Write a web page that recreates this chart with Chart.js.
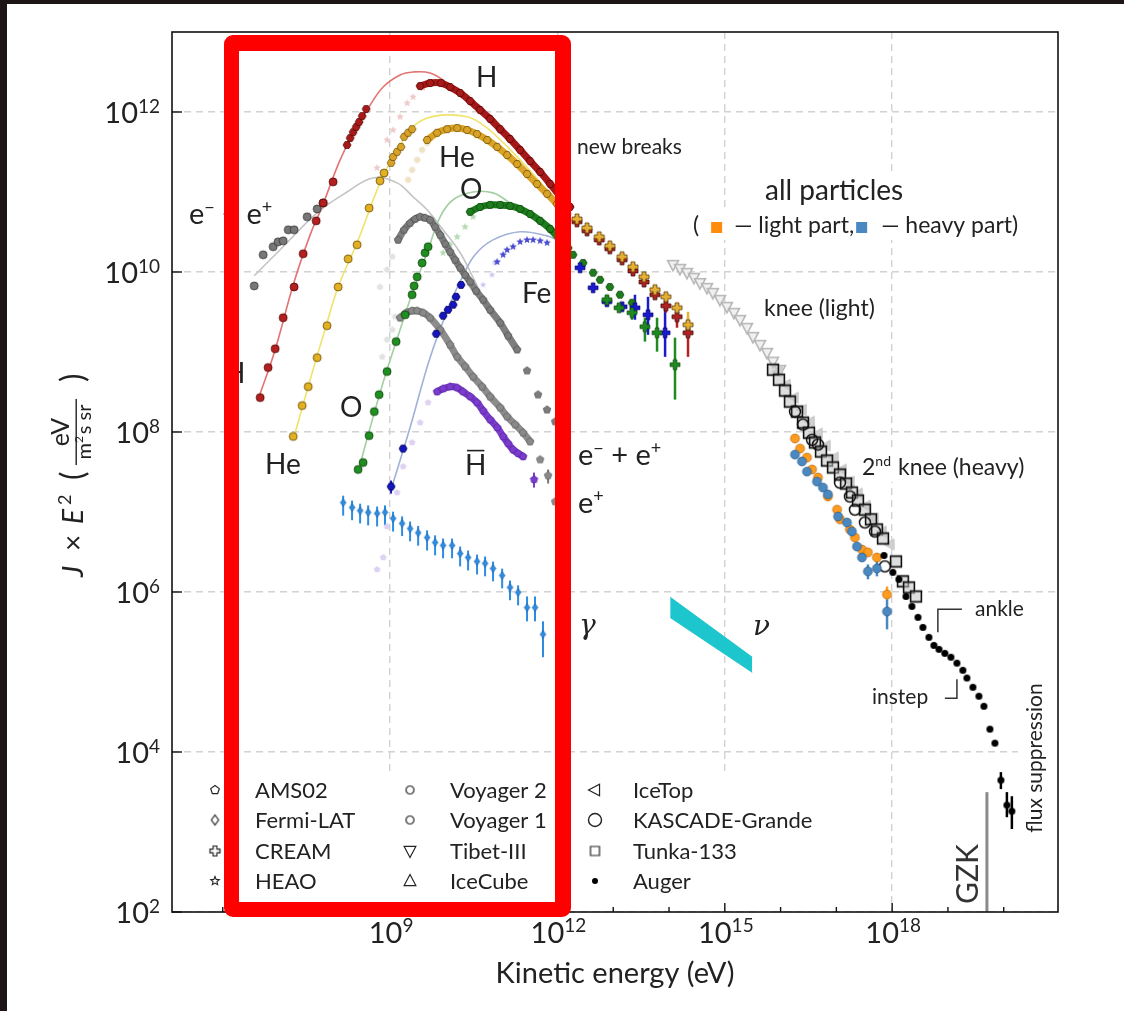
<!DOCTYPE html>
<html><head><meta charset="utf-8">
<script src="https://cdn.jsdelivr.net/npm/chart.js@4.4.1/dist/chart.umd.min.js"></script>
<style>html,body{margin:0;padding:0;background:#1d1515;}canvas{display:block;}</style>
</head><body>
<canvas id="c" width="1124" height="1011"></canvas>
<script>
// ---------------- axis ticks ----------------
const xTickValues = [1e9, 1e12, 1e15, 1e18];
const xTickExps = ['9', '12', '15', '18'];
const xMinorTicks = [1e6, 1e7, 1e8, 1e10, 1e11, 1e13, 1e14, 1e16, 1e17, 1e19, 1e20];
const yTickValues = [1e2, 1e4, 1e6, 1e8, 1e10, 1e12];
const yTickExps = ['2', '4', '6', '8', '10', '12'];

// ---------------- H ----------------
const hVoyE = [4.68e6, 6.5e6, 8.7e6, 1.21e7, 1.9e7, 2.76e7, 4.72e7, 6.3e7, 9.5e7];
const hVoyJ = [2.69e8, 6.4e8, 1.1e9, 2.68e9, 6.5e9, 1.69e10, 4.36e10, 7.3e10, 1.34e11];
const hLowE = [1.69e8, 1.92e8, 2.17e8, 2.46e8, 2.78e8, 3.15e8, 3.72e8];
const hLowJ = [3.87e11, 4.73e11, 5.6e11, 6.5e11, 7.5e11, 8.9e11, 1.09e12];
const hCurveE = [4.3e6, 8.7e6, 1.83e7, 3.68e7, 6.0e7, 1.27e8, 2.36e8, 3.87e8, 7.5e8, 1.51e9, 2.58e9, 5.2e9, 1.05e10, 2.4e10, 6.2e10, 2.14e11, 9.1e11];
const hCurveJ = [2.54e8, 1.07e9, 6.9e9, 2.91e10, 6.5e10, 2.52e11, 5.96e11, 1.06e12, 2.05e12, 2.9e12, 3.16e12, 3.07e12, 2.3e12, 1.41e12, 7.9e11, 3.56e11, 1.06e11];
const hAmsE = [3.45e9, 5.2e9, 8.2e9, 1.19e10, 1.8e10, 2.72e10, 4.1e10, 6.2e10, 9.4e10, 1.41e11, 2.14e11, 3.23e11, 4.9e11, 7.4e11, 1.11e12, 1.68e12];
const hAmsJ = [2.11e12, 2.3e12, 2.3e12, 2.05e12, 1.73e12, 1.37e12, 1.06e12, 8.2e11, 6.1e11, 4.6e11, 3.36e11, 2.44e11, 1.78e11, 1.26e11, 8.9e10, 6.5e10];
const hFaintE = [5.85e8, 8.8e8, 1.13e9, 1.51e9, 2.02e9, 2.58e9, 3.9e9];
const hFaintJ = [2.0e11, 4.47e11, 5.96e11, 8.7e11, 1.29e12, 1.54e12, 2.0e12];
const creamE = [2.24e12, 3.39e12, 5.6e12, 8.7e12, 1.44e13, 2.26e13, 3.56e13, 5.6e13, 8.8e13, 1.39e14, 2.19e14];
const hCreamJ = [4.24e10, 3.27e10, 2.52e10, 1.95e10, 1.42e10, 1.03e10, 7.5e9, 5.2e9, 3.78e9, 2.76e9, 1.74e9];
const hCreamLo = [null, null, null, null, null, null, null, null, 3.1e9, 2.01e9, 8.7e8];
const hCreamHi = [null, null, null, null, null, null, null, null, 4.5e9, 3.37e9, 2.07e9];

// ---------------- He ----------------
const heVoyE = [1.83e7, 2.65e7, 3.4e7, 4.92e7, 7.4e7, 1.17e8, 1.77e8, 2.56e8, 4.2e8, 6.6e8, 7.8e8];
const heVoyJ = [8.8e7, 2.14e8, 3.69e8, 8.5e8, 2.13e9, 6.5e9, 1.46e10, 2.19e10, 6.3e10, 1.38e11, 1.73e11];
const heLowE = [1.04e9, 1.13e9, 1.33e9, 1.57e9, 1.78e9, 2.1e9, 2.48e9];
const heLowJ = [2.31e11, 2.74e11, 3.17e11, 3.66e11, 4.9e11, 5.5e11, 6.1e11];
const heCurveE = [1.83e7, 3.68e7, 6.8e7, 1.17e8, 2.56e8, 6.6e8, 1.33e9, 2.58e9, 4.6e9, 1.05e10, 2.4e10, 4.1e10, 7.6e10, 2.14e11, 9.1e11];
const heCurveJ = [8.0e7, 4.5e8, 1.9e9, 6.5e9, 2.32e10, 1.3e11, 3.36e11, 6.5e11, 8.4e11, 9.2e11, 8.7e11, 7.3e11, 5.2e11, 2.52e11, 8.0e10];
const heAmsE = [4.6e9, 6.95e9, 1.05e10, 1.59e10, 2.4e10, 3.62e10, 5.5e10, 8.3e10, 1.25e11, 1.89e11, 2.85e11, 4.3e11, 6.5e11, 9.8e11, 1.49e12];
const heAmsJ = [4.47e11, 5.5e11, 6.1e11, 6.3e11, 5.96e11, 5.3e11, 4.47e11, 3.66e11, 2.9e11, 2.24e11, 1.68e11, 1.26e11, 9.5e10, 7.1e10, 5.3e10];
const heFaintE = [2.1e9, 2.48e9, 3.05e9, 3.74e9, 4.6e9];
const heFaintJ = [1.42e11, 1.89e11, 2.52e11, 3.36e11, 4.1e11];
const heCreamJ = [4.6e10, 3.56e10, 2.75e10, 2.12e10, 1.55e10, 1.16e10, 8.7e9, 6.0e9, 4.9e9, 3.57e9, 2.19e9];
const heCreamLo = [null, null, null, null, null, null, null, null, null, 3.1e9, 1.64e9];
const heCreamHi = [null, null, null, null, null, null, null, null, null, 4.13e9, 3.18e9];

// ---------------- e- + e+ ----------------
const eeLowE = [3.66e6, 5.3e6, 8.0e6, 9.8e6, 1.21e7, 1.49e7, 1.9e7, 3.26e7, 4.92e7, 6.3e7];
const eeLowJ = [6.7e9, 1.64e10, 2.07e10, 2.38e10, 2.45e10, 3.37e10, 3.37e10, 4.9e10, 6.15e10, 7.3e10];
const eeCurveE = [3.66e6, 1.21e7, 4.92e7, 1.69e8, 4.95e8, 1.33e9, 2.58e9, 4.6e9, 8.9e9, 1.8e10, 3.07e10, 4.1e10];
const eeCurveJ = [8.97e9, 2.07e10, 5.5e10, 1.0e11, 1.5e11, 1.3e11, 8.7e10, 6.0e10, 3.37e10, 1.74e10, 8.5e9, 5.66e9];
const eeAmsE = [1.39e9, 1.78e9, 2.28e9, 2.81e9, 3.45e9, 4.24e9, 5.2e9, 6.4e9, 7.9e9, 9.7e9, 1.19e10, 1.46e10, 1.8e10, 2.21e10, 2.72e10, 3.48e10, 4.64e10, 6.2e10, 9.4e10, 1.3e11, 1.89e11, 2.85e11, 4.49e11, 6.5e11, 9.1e11];
const eeAmsJ = [2.52e10, 3.37e10, 4.1e10, 4.6e10, 4.9e10, 4.75e10, 4.49e10, 3.66e10, 2.91e10, 2.25e10, 1.79e10, 1.42e10, 1.13e10, 9.2e9, 7.55e9, 5.8e9, 4.5e9, 3.37e9, 2.32e9, 1.6e9, 1.07e9, 5.85e8, 2.93e8, 1.9e8, 1.35e8];
const eeFaintE = [6.6e8, 8.8e8, 1.09e9, 1.23e9, 1.09e9, 7.2e8, 8.8e8];
const eeFaintJ = [6.5e9, 1.07e10, 1.55e10, 2.76e9, 1.9e9, 8.7e8, 1.43e9];

// ---------------- e+ ----------------
const posE = [1.51e9, 1.94e9, 2.48e9, 3.05e9, 3.9e9, 5.2e9, 7.9e9, 1.19e10, 1.59e10, 2.21e10, 3.07e10, 4.45e10, 6.2e10, 9.4e10, 1.25e11, 1.74e11, 2.42e11, 3.23e11, 4.9e11, 6.8e11, 9.1e11];
const posJ = [2.68e9, 3.1e9, 3.28e9, 3.28e9, 3.1e9, 2.68e9, 1.9e9, 1.23e9, 8.7e8, 6.6e8, 4.92e8, 3.69e8, 2.77e8, 2.02e8, 1.56e8, 1.24e8, 9.8e7, 7.6e7, 4.53e7, 2.86e7, 1.35e7];
const posLo = [null, null, null, null, null, null, null, null, null, null, null, null, null, null, null, null, null, null, null, 2.27e7, null];
const posHi = [null, null, null, null, null, null, null, null, null, null, null, null, null, null, null, null, null, null, null, 3.4e7, null];

// ---------------- O ----------------
const oVoyE = [2.67e8, 3.28e8, 4.2e8, 5.2e8, 6.35e8, 8.8e8, 1.28e9, 1.86e9, 2.48e9, 2.69e9, 3.05e9, 3.74e9, 4.24e9, 4.8e9];
const oVoyJ = [3.4e7, 4.15e7, 9.0e7, 1.8e8, 2.93e8, 5.7e8, 1.35e9, 2.92e9, 5.2e9, 6.7e9, 8.7e9, 1.3e10, 1.74e10, 2.07e10];
const oCurveE = [2.67e8, 6.6e8, 1.51e9, 2.69e9, 4.8e9, 7.9e9, 1.35e10, 3.07e10, 7.0e10, 1.41e11, 3.23e11, 9.1e11];
const oCurveJ = [3.2e7, 3.1e8, 1.9e9, 6.35e9, 1.89e10, 4.9e10, 8.0e10, 1.0e11, 9.75e10, 7.3e10, 5.2e10, 2.91e10];
const oAmsE = [2.72e10, 4.1e10, 6.2e10, 9.4e10, 1.41e11, 2.14e11, 3.23e11, 4.9e11, 7.4e11, 1.11e12, 1.55e12, 1.9e12, 2.88e12, 4.35e12, 5.8e12, 8.7e12, 1.32e13, 2.17e13];
const oAmsJ = [5.65e10, 6.5e10, 6.9e10, 6.9e10, 6.7e10, 6.15e10, 5.3e10, 4.36e10, 3.46e10, 2.52e10, 2.0e10, 1.64e10, 1.3e10, 9.8e9, 8.0e9, 6.5e9, 5.2e9, 4.13e9];
const oStarE = [8.9e9, 1.19e10, 1.59e10, 2.21e10, 3.07e10];
const oStarJ = [1.74e10, 2.19e10, 2.75e10, 3.66e10, 4.9e10];
const oCreamE = [7.7e12, 1.27e13, 2.17e13, 3.7e13, 6.1e13, 1.28e14];
const oCreamJ = [4.5e9, 3.57e9, 3.1e9, 2.07e9, 1.74e9, 6.95e8];
const oCreamLo = [null, null, 2.53e9, 1.35e9, 1.01e9, 2.54e8];
const oCreamHi = [null, null, 3.57e9, 2.68e9, 2.68e9, 1.51e9];

// ---------------- Fe ----------------
const feVoyE = [1.04e9, 1.71e9, 6.7e9, 8.9e9, 1.09e10, 1.35e10, 1.52e10, 1.87e10];
const feVoyJ = [2.08e7, 6.2e7, 1.69e9, 2.84e9, 3.37e9, 3.9e9, 4.9e9, 6.9e9];
const feVoyLo = [1.7e7, null, null, null, null, null, null, null];
const feVoyHi = [2.47e7, null, null, null, null, null, null, null];
const feCurveE = [1.04e9, 2.28e9, 5.2e9, 1.19e10, 1.95e10, 3.33e10, 7.0e10, 2.14e11, 6.5e11, 9.8e11];
const feCurveJ = [1.91e7, 1.14e8, 8.5e8, 4.0e9, 8.5e9, 1.64e10, 2.52e10, 3.18e10, 2.83e10, 2.52e10];
const feHeaoE = [8.3e10, 1.06e11, 1.25e11, 1.6e11, 2.14e11, 2.85e11, 3.66e11, 4.9e11, 6.5e11];
const feHeaoJ = [1.34e10, 1.64e10, 1.89e10, 2.07e10, 2.38e10, 2.52e10, 2.52e10, 2.45e10, 2.32e10];
const feFaintE = [4.64e10, 6.7e10, 7.6e10];
const feFaintJ = [6.9e9, 9.2e9, 1.3e10];
const feCreamE = [2.54e12, 4.35e12, 7.7e12, 1.44e13, 2.45e13, 4.2e13, 8.5e13];
const feCreamJ = [1.13e10, 6.35e9, 4.25e9, 3.68e9, 3.57e9, 2.92e9, 1.74e9];
const feCreamLo = [null, null, null, null, 2.53e9, 1.64e9, 8.7e8];
const feCreamHi = [null, null, null, null, 5.2e9, 4.9e9, 3.68e9];

// ---------------- anti-protons ----------------
const pbarFaintE = [5.85e8, 7.5e8, 8.8e8, 1.33e9, 1.71e9, 2.48e9, 3.45e9, 4.8e9];
const pbarFaintJ = [1.91e6, 2.7e6, 6.6e6, 1.75e7, 3.7e7, 7.4e7, 1.31e8, 2.33e8];
const pbarE = [6.95e9, 8.9e9, 1.19e10, 1.59e10, 2.03e10, 2.72e10, 3.62e10, 4.64e10, 6.2e10, 8.3e10, 1.06e11, 1.3e11, 1.6e11, 1.97e11, 2.42e11, 3.8e11];
const pbarJ = [3.19e8, 3.48e8, 3.69e8, 3.58e8, 3.19e8, 2.77e8, 2.33e8, 1.85e8, 1.43e8, 1.14e8, 8.8e7, 7.2e7, 6.0e7, 5.4e7, 4.93e7, 2.55e7];
const pbarLo = [null, null, null, null, null, null, null, null, null, null, null, null, null, null, null, 2.02e7];
const pbarHi = [null, null, null, null, null, null, null, null, null, null, null, null, null, null, null, 3.11e7];

// ---------------- gamma (Fermi-LAT) ----------------
const gamE = [1.44e8, 2.08e8, 2.9e8, 4.04e8, 5.85e8, 8.1e8, 1.13e9, 1.64e9, 2.28e9, 3.18e9, 4.6e9, 6.4e9, 8.9e9, 1.29e10, 1.8e10, 2.5e10, 3.62e10, 5.04e10, 7.0e10, 1.02e11, 1.41e11, 1.97e11, 2.85e11, 3.96e11, 5.5e11];
const gamJ = [1.31e7, 1.14e7, 1.04e7, 9.9e6, 9.6e6, 9.9e6, 8.3e6, 7.2e6, 6.2e6, 5.5e6, 4.8e6, 4.16e6, 3.82e6, 3.82e6, 3.03e6, 2.7e6, 2.41e6, 2.28e6, 1.97e6, 1.61e6, 1.14e6, 9.9e5, 6.4e5, 6.4e5, 2.96e5];
const gamHi = [1.6e7, 1.39e7, 1.27e7, 1.21e7, 1.17e7, 1.21e7, 1.01e7, 8.8e6, 7.6e6, 6.7e6, 5.9e6, 5.1e6, 4.66e6, 4.66e6, 3.7e6, 3.3e6, 2.94e6, 2.78e6, 2.4e6, 1.96e6, 1.39e6, 1.21e6, 8.8e5, 8.8e5, 4.3e5];
const gamLo = [9.0e6, 7.9e6, 7.2e6, 6.8e6, 6.6e6, 6.8e6, 5.7e6, 5.0e6, 4.3e6, 3.8e6, 3.3e6, 2.87e6, 2.64e6, 2.64e6, 2.09e6, 1.86e6, 1.66e6, 1.57e6, 1.36e6, 1.11e6, 7.9e5, 6.8e5, 4.3e5, 4.3e5, 1.53e5];

// ---------------- neutrinos (IceCube band) ----------------
const nuE = [1.05e14, 3.1e15];
const nuHi = [8.6e5, 1.53e5];
const nuLo = [4.8e5, 9.9e4];

// ---------------- all particles ----------------
const tibetE = [1.18e14, 1.57e14, 2.1e14, 2.8e14, 3.59e14, 4.8e14, 6.1e14, 8.2e14, 1.09e15, 1.46e15, 1.87e15, 2.5e15, 3.2e15, 4.28e15, 5.7e15, 7.3e15, 9.75e15];
const tibetJ = [1.23e10, 1.1e10, 9.8e9, 8.5e9, 7.3e9, 6.35e9, 5.5e9, 4.5e9, 3.68e9, 3.1e9, 2.53e9, 2.01e9, 1.55e9, 1.23e9, 9.8e8, 7.6e8, 6.0e8];
const iceTopE = [8.97e15, 1.25e16, 1.74e16, 2.42e16, 3.37e16, 4.68e16, 6.5e16, 9.06e16, 1.26e17, 1.75e17, 2.44e17, 3.39e17, 4.71e17, 6.56e17, 9.1e17];
const iceTopJ = [5.7e8, 3.9e8, 2.69e8, 1.9e8, 1.35e8, 9.55e7, 6.76e7, 4.8e7, 3.4e7, 2.4e7, 1.7e7, 1.2e7, 8.3e6, 5.7e6, 3.93e6];
const tunkaE = [7.3e15, 9.35e15, 1.2e16, 1.47e16, 1.97e16, 2.52e16, 3.23e16, 4.13e16, 5.3e16, 6.8e16, 8.7e16, 1.16e17, 1.49e17, 1.9e17, 2.44e17, 3.25e17, 4.17e17, 5.33e17, 6.84e17, 1.17e18, 1.56e18, 2.0e18, 2.67e18];
const tunkaJ = [6.0e8, 4.5e8, 3.29e8, 2.4e8, 1.8e8, 1.31e8, 9.8e7, 7.4e7, 5.7e7, 4.4e7, 3.6e7, 2.94e7, 2.27e7, 1.75e7, 1.39e7, 1.07e7, 8.1e6, 6.05e6, 4.67e6, 2.41e6, 1.36e6, 1.14e6, 8.8e5];
const kgE = [1.81e16, 2.52e16, 3.66e16, 4.68e16, 1.16e17, 1.75e17, 2.15e17, 3.25e17, 4.92e17, 7.4e17];
const kgJ = [1.8e8, 1.24e8, 8.0e7, 6.97e7, 2.33e7, 1.56e7, 1.07e7, 7.4e6, 5.7e6, 2.09e6];
const lightE = [1.81e16, 2.23e16, 2.97e16, 3.66e16, 4.68e16, 7.06e16, 1.03e17, 1.16e17, 1.75e17, 2.15e17, 2.88e17, 3.68e17, 5.33e17, 8.1e17];
const lightJ = [8.3e7, 6.2e7, 4.8e7, 3.4e7, 2.7e7, 1.56e7, 1.07e7, 8.1e6, 6.05e6, 4.8e6, 3.4e6, 3.13e6, 2.7e6, 9.3e5];
const lightLo = [null, null, null, null, null, null, null, null, null, null, null, null, null, 8.1e5];
const lightHi = [null, null, null, null, null, null, null, null, null, null, null, null, null, 1.17e6];
const heavyE = [1.81e16, 2.42e16, 2.97e16, 4.49e16, 5.75e16, 7.06e16, 1.07e17, 1.55e17, 1.9e17, 2.34e17, 2.88e17, 3.68e17, 5.33e17, 8.1e17];
const heavyJ = [5.22e7, 4.28e7, 3.2e7, 2.4e7, 2.02e7, 1.66e7, 8.8e6, 7.4e6, 5.7e6, 3.7e6, 2.7e6, 1.81e6, 1.97e6, 5.7e5];
const heavyLo = [null, null, null, null, null, null, null, null, null, null, null, 1.44e6, 1.57e6, 3.41e5];
const heavyHi = [null, null, null, null, null, null, null, null, null, null, null, 2.21e6, 2.41e6, 8.1e5];
const augerE = [7.13e17, 1.03e18, 1.32e18, 1.77e18, 2.26e18, 2.9e18, 3.56e18, 4.56e18, 5.6e18, 6.9e18, 8.8e18, 1.13e19, 1.45e19, 1.85e19, 2.19e19, 2.8e19, 3.59e19, 4.41e19, 5.65e19, 6.95e19, 8.9e19, 1.14e20, 1.4e20];
const augerJ = [2.86e6, 1.76e6, 1.44e6, 8.8e5, 6.6e5, 4.82e5, 3.61e5, 2.71e5, 2.15e5, 1.92e5, 1.71e5, 1.53e5, 1.29e5, 1.05e5, 8.4e4, 6.44e4, 4.98e4, 3.73e4, 1.93e4, 1.29e4, 4.45e3, 2.17e3, 1.82e3];
const augerLo = [null, null, null, null, null, null, null, null, null, null, null, null, null, null, null, null, null, null, null, null, 3.44e3, 1.53e3, 1.09e3];
const augerHi = [null, null, null, null, null, null, null, null, null, null, null, null, null, null, null, null, null, null, null, null, 5.6e3, 3.15e3, 2.8e3];

// ---------------- guide marks ----------------
const gzkE = [5.0e19, 5.0e19];
const gzkJ = [1e2, 3.15e3];
const ankleE = [6.6e18, 6.6e18, 1.78e19];
const ankleJ = [3.13e5, 6.07e5, 6.07e5];
const instepE = [8.8e18, 1.45e19, 1.45e19];
const instepJ = [4.7e4, 4.7e4, 8.1e4];

// ---------------- legend ----------------
const legendLabels = [['AMS02', 'Fermi-LAT', 'CREAM', 'HEAO'], ['Voyager 2', 'Voyager 1', 'Tibet-III', 'IceCube'], ['IceTop', 'KASCADE-Grande', 'Tunka-133', 'Auger']];

// =============== rendering helpers ===============
const FONT = 'Lato, "Open Sans", "DejaVu Sans", sans-serif';
const SERIF = '"DejaVu Serif", "Liberation Serif", serif';
const TXT = '#222222';

function mk(shape, size, fill, stroke, lw) {
  lw = lw || 0;
  const s = Math.ceil(size + lw * 2 + 2);
  const c = document.createElement('canvas'); c.width = s; c.height = s;
  const g = c.getContext('2d'); g.translate(s / 2, s / 2);
  const r = size / 2; g.beginPath();
  const poly = (n, rot, rr) => { for (let i = 0; i < n; i++) { const a = rot + i * 2 * Math.PI / n; const px = rr * Math.cos(a), py = rr * Math.sin(a); if (i) g.lineTo(px, py); else g.moveTo(px, py); } g.closePath(); };
  if (shape === 'circle') g.arc(0, 0, r, 0, Math.PI * 2);
  else if (shape === 'hex') poly(6, 0, r);
  else if (shape === 'pent') poly(5, -Math.PI / 2, r);
  else if (shape === 'diamond') { g.moveTo(0, -r); g.lineTo(r * 0.72, 0); g.lineTo(0, r); g.lineTo(-r * 0.72, 0); g.closePath(); }
  else if (shape === 'square') g.rect(-r * 0.9, -r * 0.9, r * 1.8, r * 1.8);
  else if (shape === 'tri') { g.moveTo(0, -r); g.lineTo(r * 0.9, r * 0.7); g.lineTo(-r * 0.9, r * 0.7); g.closePath(); }
  else if (shape === 'triDown') { g.moveTo(0, r); g.lineTo(r * 0.9, -r * 0.7); g.lineTo(-r * 0.9, -r * 0.7); g.closePath(); }
  else if (shape === 'triLeft') { g.moveTo(-r, 0); g.lineTo(r * 0.7, -r * 0.9); g.lineTo(r * 0.7, r * 0.9); g.closePath(); }
  else if (shape === 'star') { for (let i = 0; i < 10; i++) { const a = -Math.PI / 2 + i * Math.PI / 5; const rr = i % 2 ? r * 0.45 : r; const px = rr * Math.cos(a), py = rr * Math.sin(a); if (i) g.lineTo(px, py); else g.moveTo(px, py); } g.closePath(); }
  else if (shape === 'cross') { const t = r * 0.38; g.moveTo(-t, -r); g.lineTo(t, -r); g.lineTo(t, -t); g.lineTo(r, -t); g.lineTo(r, t); g.lineTo(t, t); g.lineTo(t, r); g.lineTo(-t, r); g.lineTo(-t, t); g.lineTo(-r, t); g.lineTo(-r, -t); g.lineTo(-t, -t); g.closePath(); }
  if (fill) { g.fillStyle = fill; g.fill(); }
  if (stroke && lw) { g.strokeStyle = stroke; g.lineWidth = lw; g.stroke(); }
  return c;
}

const M = {
  hVoy: mk('circle', 8, '#b51f1f', '#4a0000', 0.8),
  hHex: mk('hex', 8, '#a81a1a', '#4a0000', 0.7),
  hFaint: mk('star', 8, '#efcaca', null, 0),
  hCream: mk('cross', 10, '#b32222', '#3a0a0a', 0.8),
  heVoy: mk('circle', 8, '#e2b022', '#6a4a00', 0.8),
  heHex: mk('hex', 8, '#d8a326', '#6a4a00', 0.7),
  heFaint: mk('hex', 7, '#f0e2c6', null, 0),
  heCream: mk('cross', 10, '#e6b035', '#5a3a08', 0.8),
  eeVoy: mk('circle', 8, '#777777', '#333333', 0.8),
  eeAms: mk('pent', 8, '#7c7c7c', '#444444', 0.6),
  eeFaint: mk('pent', 7, '#e2e2e2', null, 0),
  pos: mk('pent', 8, '#8a8a8a', '#555555', 0.6),
  oVoy: mk('circle', 8, '#1f8f1f', '#0a3f0a', 0.8),
  oHex: mk('hex', 8, '#1d7d1d', '#0a3a0a', 0.7),
  oStar: mk('star', 8, '#b5dbb5', null, 0),
  oCream: mk('cross', 10, '#1f8a1f', '#0a3a0a', 0.6),
  feVoy: mk('hex', 8, '#1414c0', '#000050', 0.8),
  feHeao: mk('star', 8, '#4a4ad0', null, 0),
  feFaint: mk('star', 7, '#c8c8ef', null, 0),
  feCream: mk('cross', 10, '#1a1ad0', '#000050', 0.6),
  pbar: mk('pent', 8, '#7a3ccc', '#4a1a8a', 0.5),
  pbarFaint: mk('pent', 7, '#ddd2f2', null, 0),
  gam: mk('diamond', 8, '#2d8be0', '#1a5a9a', 0.5),
  tibet: mk('triDown', 12, 'rgba(240,240,240,0.9)', '#b5b5b5', 1.6),
  iceTop: mk('triLeft', 12, '#d0d0d0', '#c4c4c4', 1),
  tunka: mk('square', 12, 'rgba(195,195,195,0.55)', '#111111', 1.6),
  kg: mk('circle', 11, null, '#111111', 1.5),
  light: mk('circle', 9, '#ff9b1e', '#a85a00', 0.6),
  heavy: mk('circle', 9, '#4a88c2', '#24507a', 0.6),
  auger: mk('circle', 7, '#000000', null, 0)
};

const LEG = [
  [mk('pent', 9, '#fff', '#222', 1.2), mk('diamond', 10, '#fff', '#222', 1.2), mk('cross', 10, '#fff', '#222', 1.2), mk('star', 9, '#fff', '#222', 1.1)],
  [mk('circle', 8, '#fff', '#222', 1.2), mk('circle', 8, '#fff', '#222', 1.2), mk('triDown', 13, '#fff', '#222', 1.2), mk('tri', 13, '#fff', '#222', 1.2)],
  [mk('triLeft', 13, '#fff', '#222', 1.2), mk('circle', 13, '#fff', '#222', 1.4), mk('square', 10, '#fff', '#222', 1.2), mk('circle', 6, '#000', null, 0)]
];

function pts(xs, ys) { return xs.map((x, i) => ({ x: x, y: ys[i] })); }

const L = [];
function curve(xs, ys, color) { L.push({ data: pts(xs, ys), showLine: true, borderColor: color, borderWidth: 1.6, pointRadius: 0, tension: 0.4 }); }
function band(xs, ys, color, w) { L.push({ data: pts(xs, ys), showLine: true, borderColor: color, borderWidth: w, pointRadius: 0, tension: 0.3, borderCapStyle: 'round', borderJoinStyle: 'round' }); }
function marks(xs, ys, marker, err) { const d = { data: pts(xs, ys), showLine: false, pointStyle: marker, pointRadius: 4 }; if (err) Object.assign(d, err); L.push(d); }
function guide(xs, ys, color, w) { L.push({ data: pts(xs, ys), showLine: true, borderColor: color, borderWidth: w, pointRadius: 0, tension: 0 }); }

// back to front
L.push({ data: pts(nuE, nuHi), showLine: true, borderColor: '#1cc6cc', borderWidth: 1, pointRadius: 0, tension: 0 });
L.push({ data: pts(nuE, nuLo), showLine: true, borderColor: '#1cc6cc', borderWidth: 1, pointRadius: 0, tension: 0, fill: '-1', backgroundColor: '#1cc6cc' });
curve(eeCurveE, eeCurveJ, '#c4c4c4');
curve(hCurveE, hCurveJ, '#e47474');
curve(heCurveE, heCurveJ, '#efe36a');
curve(oCurveE, oCurveJ, '#a3cfa3');
curve(feCurveE, feCurveJ, '#a0b2d8');
marks(hFaintE, hFaintJ, M.hFaint);
marks(heFaintE, heFaintJ, M.heFaint);
marks(eeFaintE, eeFaintJ, M.eeFaint);
marks(oStarE, oStarJ, M.oStar);
marks(feFaintE, feFaintJ, M.feFaint);
marks(pbarFaintE, pbarFaintJ, M.pbarFaint);
band(posE.slice(0, 18), posJ.slice(0, 18), '#8c8c8c', 7);
marks(posE, posJ, M.pos, { errLo: posLo, errHi: posHi, errColor: '#777777', errWidth: 2 });
band(eeAmsE.slice(0, 21), eeAmsJ.slice(0, 21), '#7e7e7e', 7);
marks(eeAmsE, eeAmsJ, M.eeAms);
band(pbarE.slice(0, 15), pbarJ.slice(0, 15), '#7b3dcc', 7);
marks(pbarE, pbarJ, M.pbar, { errLo: pbarLo, errHi: pbarHi, errColor: '#7a3ccc', errWidth: 2 });
marks(eeLowE, eeLowJ, M.eeVoy);
marks(oVoyE, oVoyJ, M.oVoy);
marks(feVoyE, feVoyJ, M.feVoy, { errLo: feVoyLo, errHi: feVoyHi, errColor: '#1414c0', errWidth: 2 });
band(oAmsE.slice(0, 11), oAmsJ.slice(0, 11), '#1d7d1d', 7);
marks(oAmsE, oAmsJ, M.oHex);
marks(feHeaoE, feHeaoJ, M.feHeao);
band(heAmsE, heAmsJ, '#d9a427', 7);
marks(heAmsE, heAmsJ, M.heHex);
band(hAmsE, hAmsJ, '#a51818', 7);
marks(hAmsE, hAmsJ, M.hHex);
marks(heVoyE, heVoyJ, M.heVoy);
marks(heLowE, heLowJ, M.heHex);
marks(hVoyE, hVoyJ, M.hVoy);
marks(hLowE, hLowJ, M.hHex);
marks(gamE, gamJ, M.gam, { errLo: gamLo, errHi: gamHi, errColor: '#2d8be0', errWidth: 2 });
marks(feCreamE, feCreamJ, M.feCream, { errLo: feCreamLo, errHi: feCreamHi, errColor: '#1a1ad0', errWidth: 2.5 });
marks(oCreamE, oCreamJ, M.oCream, { errLo: oCreamLo, errHi: oCreamHi, errColor: '#1f8a1f', errWidth: 2.5 });
marks(creamE, hCreamJ, M.hCream, { errLo: hCreamLo, errHi: hCreamHi, errColor: '#b32222', errWidth: 2.5 });
marks(creamE, heCreamJ, M.heCream, { errLo: heCreamLo, errHi: heCreamHi, errColor: '#e6b035', errWidth: 2.5 });
marks(tibetE, tibetJ, M.tibet);
marks(iceTopE, iceTopJ, M.iceTop);
marks(tunkaE, tunkaJ, M.tunka);
marks(kgE, kgJ, M.kg);
marks(lightE, lightJ, M.light, { errLo: lightLo, errHi: lightHi, errColor: '#ff9b1e', errWidth: 2.5 });
marks(heavyE, heavyJ, M.heavy, { errLo: heavyLo, errHi: heavyHi, errColor: '#4a88c2', errWidth: 2.5 });
marks(augerE, augerJ, M.auger, { errLo: augerLo, errHi: augerHi, errColor: '#000000', errWidth: 2.5 });
guide(gzkE, gzkJ, '#8a8a8a', 3);
guide(ankleE, ankleJ, '#333333', 1.5);
guide(instepE, instepJ, '#333333', 1.5);
L.forEach((d, i) => { d.order = L.length - i; });

// text annotations (canvas pixel anchors)
const labels = [
  { x: 476, y: 87, s: 28, parts: [{ t: 'H' }] },
  { x: 439, y: 167, s: 28, parts: [{ t: 'He' }] },
  { x: 460, y: 199, s: 28, parts: [{ t: 'O' }] },
  { x: 522, y: 303, s: 28, parts: [{ t: 'Fe' }] },
  { x: 189, y: 224, s: 29, parts: [{ t: 'e' }, { t: '\u2212', s: 1 }, { t: ' + ' }, { t: 'e' }, { t: '+', s: 1 }] },
  { x: 224, y: 383, s: 28, parts: [{ t: 'H' }] },
  { x: 340, y: 417, s: 28, parts: [{ t: 'O' }] },
  { x: 265, y: 474, s: 28, parts: [{ t: 'He' }] },
  { x: 465, y: 475, s: 28, parts: [{ t: 'H', b: 1 }] },
  { x: 578, y: 465, s: 29, parts: [{ t: 'e' }, { t: '\u2212', s: 1 }, { t: ' + ' }, { t: 'e' }, { t: '+', s: 1 }] },
  { x: 578, y: 513, s: 29, parts: [{ t: 'e' }, { t: '+', s: 1 }] },
  { x: 579, y: 634, s: 28, parts: [{ t: '\u03b3', i: 1, f: SERIF }] },
  { x: 753, y: 635, s: 28, parts: [{ t: '\u03bd', i: 1, f: SERIF }] },
  { x: 577, y: 154, s: 21, parts: [{ t: 'new breaks' }] },
  { x: 765, y: 200, s: 28, parts: [{ t: 'all particles' }] },
  { x: 764, y: 316, s: 23, parts: [{ t: 'knee (light)' }] },
  { x: 862, y: 475, s: 23, parts: [{ t: '2' }, { t: 'nd', s: 1, g: 7 }, { t: 'knee (heavy)' }] },
  { x: 975, y: 616, s: 21, parts: [{ t: 'ankle' }] },
  { x: 872, y: 704, s: 21, parts: [{ t: 'instep' }] }
];
const whiteBoxes = [[180, 772, 650, 134], [760, 176, 160, 32], [688, 210, 362, 30], [858, 450, 180, 32], [1018, 672, 40, 176]];

function runs(ctx, parts, x, y, size) {
  let cx = x;
  parts.forEach(p => {
    const sz = p.s ? Math.round(size * 0.62) : size;
    ctx.font = (p.i ? 'italic ' : '') + sz + 'px ' + (p.f || FONT);
    const yy = p.s ? y - size * 0.38 : y;
    ctx.fillText(p.t, cx, yy);
    const w = ctx.measureText(p.t).width;
    if (p.b) ctx.fillRect(cx + 2, y - size * 0.9, w - 4, 1.6);
    cx += w + (p.g || 0);
  });
  return cx;
}

const deco = {
  id: 'deco',
  beforeDraw(chart) {
    const ctx = chart.ctx;
    ctx.save();
    ctx.fillStyle = '#1d1515'; ctx.fillRect(0, 0, chart.width, chart.height);
    ctx.fillStyle = '#ffffff'; ctx.fillRect(7, 4, chart.width - 7, chart.height - 4);
    ctx.restore();
  },
  beforeDatasetsDraw(chart) {
    const ctx = chart.ctx, a = chart.chartArea, xs = chart.scales.x, ys = chart.scales.y;
    ctx.save();
    ctx.fillStyle = '#ffffff';
    whiteBoxes.forEach(b => ctx.fillRect(b[0], b[1], b[2], b[3]));
    ctx.beginPath(); ctx.rect(a.left, a.top, a.right - a.left, a.bottom - a.top); ctx.clip();
    chart.data.datasets.forEach(ds => {
      if (!ds.errLo) return;
      ctx.strokeStyle = ds.errColor; ctx.lineWidth = ds.errWidth || 2;
      ds.data.forEach((p, j) => {
        const lo = ds.errLo[j], hi = ds.errHi[j];
        if (lo == null || hi == null) return;
        const px = xs.getPixelForValue(p.x);
        ctx.beginPath(); ctx.moveTo(px, ys.getPixelForValue(hi)); ctx.lineTo(px, ys.getPixelForValue(lo)); ctx.stroke();
      });
    });
    ctx.restore();
  },
  afterDraw(chart) {
    const ctx = chart.ctx, a = chart.chartArea, xs = chart.scales.x, ys = chart.scales.y;
    ctx.save();
    // frame
    ctx.strokeStyle = '#111'; ctx.lineWidth = 1.6;
    ctx.strokeRect(a.left, a.top, a.right - a.left, a.bottom - a.top);
    // ticks (inward)
    ctx.lineWidth = 1.4;
    xMinorTicks.forEach(v => { const px = xs.getPixelForValue(v); ctx.beginPath(); ctx.moveTo(px, a.bottom); ctx.lineTo(px, a.bottom - 5); ctx.stroke(); });
    xTickValues.forEach(v => { const px = xs.getPixelForValue(v); ctx.beginPath(); ctx.moveTo(px, a.bottom); ctx.lineTo(px, a.bottom - 9); ctx.stroke(); });
    yTickValues.forEach(v => { const py = ys.getPixelForValue(v); ctx.beginPath(); ctx.moveTo(a.left, py); ctx.lineTo(a.left + 10, py); ctx.stroke(); });
    // tick labels
    ctx.fillStyle = TXT; ctx.textAlign = 'left'; ctx.textBaseline = 'alphabetic';
    xTickValues.forEach((v, i) => {
      const px = xs.getPixelForValue(v);
      ctx.font = '29px ' + FONT; const w1 = ctx.measureText('10').width;
      ctx.font = '19px ' + FONT; const w2 = ctx.measureText(xTickExps[i]).width;
      const left = px - (w1 + w2) / 2 + 1;
      ctx.font = '29px ' + FONT; ctx.fillText('10', left, a.bottom + 31);
      ctx.font = '19px ' + FONT; ctx.fillText(xTickExps[i], left + w1, a.bottom + 20);
    });
    yTickValues.forEach((v, i) => {
      const py = ys.getPixelForValue(v);
      ctx.font = '29px ' + FONT; const w1 = ctx.measureText('10').width;
      ctx.font = '19px ' + FONT; const w2 = ctx.measureText(yTickExps[i]).width;
      const left = 160 - w1 - w2;
      ctx.font = '29px ' + FONT; ctx.fillText('10', left, py + 11);
      ctx.font = '19px ' + FONT; ctx.fillText(yTickExps[i], left + w1, py + 1);
    });
    // x title
    ctx.font = '29px ' + FONT; ctx.textAlign = 'center';
    ctx.fillText('Kinetic energy (eV)', (a.left + a.right) / 2, 983);
    ctx.textAlign = 'left';
    // y title
    ctx.save(); ctx.translate(83, 577); ctx.rotate(-Math.PI / 2);
    ctx.font = 'italic 28px ' + FONT; ctx.fillText('J', 0, 0);
    ctx.font = '28px ' + FONT; ctx.fillText('\u00d7', 26, 0);
    ctx.font = 'italic 28px ' + FONT; ctx.fillText('E', 53, 0);
    ctx.font = '18px ' + FONT; ctx.fillText('2', 72, -12);
    ctx.font = '32px ' + FONT; ctx.fillText('(', 97, 1);
    const mid = 145;
    ctx.font = '25px ' + FONT; const wn = ctx.measureText('eV').width;
    ctx.fillText('eV', mid - wn / 2, -14);
    ctx.fillRect(112, -7.5, 66, 1.4);
    ctx.font = '20px ' + FONT; const wm = ctx.measureText('m').width; const wss = ctx.measureText('s sr').width;
    ctx.font = '12px ' + FONT; const w2 = ctx.measureText('2').width;
    let dx = mid - (wm + w2 + 2 + wss) / 2;
    ctx.font = '20px ' + FONT; ctx.fillText('m', dx, 8); dx += wm;
    ctx.font = '12px ' + FONT; ctx.fillText('2', dx, 0); dx += w2 + 2;
    ctx.font = '20px ' + FONT; ctx.fillText('s sr', dx, 8);
    ctx.font = '32px ' + FONT; ctx.fillText(')', 195, 1);
    ctx.restore();
    // annotations
    labels.forEach(l => runs(ctx, l.parts, l.x, l.y, l.s));
    // light/heavy line
    ctx.font = '23px ' + FONT;
    let cx = 693; const by = 233;
    ctx.fillText('(', cx, by); cx += ctx.measureText('(').width + 12;
    ctx.fillStyle = '#ff8c0a'; ctx.fillRect(cx, by - 11, 11, 11); cx += 11 + 12;
    ctx.fillStyle = TXT; ctx.fillText('\u2014 light part,', cx, by); cx += ctx.measureText('\u2014 light part,').width + 2;
    ctx.fillStyle = '#4a88c2'; ctx.fillRect(cx, by - 11, 11, 11); cx += 11 + 14;
    ctx.fillStyle = TXT; ctx.fillText('\u2014 heavy part)', cx, by);
    // rotated texts
    ctx.save(); ctx.translate(1042, 758); ctx.rotate(-Math.PI / 2); ctx.textAlign = 'center';
    ctx.font = '21px ' + FONT; ctx.fillText('flux suppression', 0, 0); ctx.restore();
    ctx.save(); ctx.translate(978, 874); ctx.rotate(-Math.PI / 2); ctx.textAlign = 'center';
    ctx.fillStyle = '#333'; ctx.font = '30px ' + FONT; ctx.fillText('GZK', 0, 0); ctx.restore();
    // legend
    const mX = [215, 410, 595], tX = [255, 450, 633], rY = [790, 820, 851, 881];
    ctx.font = '22px ' + FONT; ctx.fillStyle = TXT;
    legendLabels.forEach((col, ci) => col.forEach((lab, ri) => {
      const img = LEG[ci][ri];
      ctx.drawImage(img, mX[ci] - img.width / 2, rY[ri] - img.height / 2);
      ctx.fillText(lab, tX[ci], rY[ri] + 8);
    }));
    // red highlight box
    ctx.fillStyle = '#ff0000';
    ctx.beginPath();
    ctx.roundRect(224, 35, 347, 882, 9);
    ctx.rect(239, 51, 316, 851);
    ctx.fill('evenodd');
    ctx.restore();
  }
};

new Chart(document.getElementById('c'), {
  type: 'line',
  data: { datasets: L },
  options: {
    responsive: false, animation: false, devicePixelRatio: 1, events: [],
    layout: { padding: { left: 0, right: 66, top: 32, bottom: 0 } },
    plugins: { legend: { display: false }, tooltip: { enabled: false }, title: { display: false } },
    scales: {
      x: {
        type: 'logarithmic', min: 1.23e5, max: 9.4e20,
        afterBuildTicks: s => { s.ticks = xTickValues.map(v => ({ value: v })); },
        afterFit: s => { s.height = 99; },
        ticks: { display: false },
        grid: { color: '#d2d2d2', lineWidth: 1.4, drawTicks: false },
        border: { display: false, dash: [7, 5] }
      },
      y: {
        type: 'logarithmic', min: 1e2, max: 1e13,
        afterBuildTicks: s => { s.ticks = yTickValues.map(v => ({ value: v })); },
        afterFit: s => { s.width = 172; },
        ticks: { display: false },
        grid: { color: '#d2d2d2', lineWidth: 1.4, drawTicks: false },
        border: { display: false, dash: [7, 5] }
      }
    }
  },
  plugins: [deco]
});
</script>
</body></html>
